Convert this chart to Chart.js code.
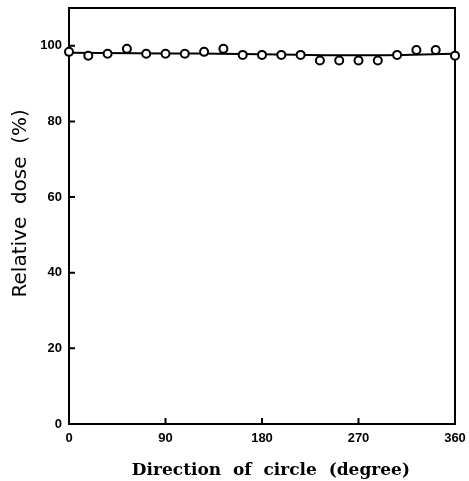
<!DOCTYPE html>
<html>
<head>
<meta charset="utf-8">
<script src="https://cdn.jsdelivr.net/npm/chart.js@4"></script>
<style>
  html, body { margin: 0; padding: 0; background: #fff; }
  #wrap { width: 469px; height: 481px; }
</style>
</head>
<body>
<div id="wrap"><canvas id="grafico"></canvas></div>
<script>
const angulos = [0, 18, 36, 54, 72, 90, 108, 126, 144, 162, 180, 198, 216, 234, 252, 270, 288, 306, 324, 342, 360]
const dosis = [98.4, 97.4, 97.9, 99.2, 97.9, 97.9, 97.9, 98.4, 99.2, 97.6, 97.6, 97.6, 97.6, 96.1, 96.1, 96.1, 96.1, 97.6, 98.9, 98.9, 97.4]
const ajusteAngulos = [0, 90, 180, 270, 360]
const ajusteDosis = [98.2, 98.0, 97.8, 97.5, 97.9]
const xTicks = [0, 90, 180, 270, 360]
const yTicks = [0, 20, 40, 60, 80, 100]

const puntos = angulos.map((a, i) => ({ x: a, y: dosis[i] }))
const ajuste = ajusteAngulos.map((a, i) => ({ x: a, y: ajusteDosis[i] }))

// marco y marcas hacia adentro
const marco = {
    id: 'marco',
    beforeDatasetsDraw(chart) {
        const { ctx, chartArea: a, scales } = chart
        ctx.save()
        ctx.strokeStyle = '#000'
        ctx.lineWidth = 2
        ctx.strokeRect(a.left, a.top, a.right - a.left, a.bottom - a.top)
        ctx.beginPath()
        xTicks.forEach(v => {
            const px = scales.x.getPixelForValue(v)
            ctx.moveTo(px, a.bottom)
            ctx.lineTo(px, a.bottom - 6)
        })
        yTicks.forEach(v => {
            const py = scales.y.getPixelForValue(v)
            ctx.moveTo(a.left, py)
            ctx.lineTo(a.left + 6, py)
        })
        ctx.stroke()
        ctx.restore()
    }
}

new Chart(document.getElementById('grafico'), {
    type: 'scatter',
    data: {
        datasets: [
            {
                label: 'ajuste',
                type: 'line',
                data: ajuste,
                borderColor: '#000',
                borderWidth: 2,
                pointRadius: 0,
                cubicInterpolationMode: 'monotone',
                fill: false,
                order: 2
            }, {
                label: 'dosis',
                data: puntos,
                pointRadius: 4,
                pointBorderWidth: 2,
                pointBackgroundColor: '#fff',
                pointBorderColor: '#000',
                clip: false,
                order: 1
            }
        ]
    },
    options: {
        responsive: true,
        maintainAspectRatio: false,
        animation: false,
        layout: { padding: { left: 0, right: 14, top: 8, bottom: 0 } },
        plugins: {
            legend: { display: false },
            tooltip: { enabled: false }
        },
        scales: {
            x: {
                type: 'linear',
                min: 0,
                max: 360,
                afterBuildTicks: s => { s.ticks = xTicks.map(v => ({ value: v })) },
                afterFit: s => { s.height = 57; s.paddingLeft = 0; s.paddingRight = 0 },
                grid: { display: false, drawTicks: false },
                border: { display: false },
                ticks: {
                    color: '#000',
                    padding: 7,
                    maxRotation: 0,
                    font: { family: 'Liberation Sans', size: 13, weight: 'bold' }
                },
                title: {
                    display: true,
                    text: '   Direction  of  circle  (degree)',
                    color: '#000',
                    padding: { top: 2, bottom: 0 },
                    font: { family: 'DejaVu Serif', size: 17, weight: 'bold' }
                }
            },
            y: {
                min: 0,
                max: 110,
                afterBuildTicks: s => { s.ticks = yTicks.map(v => ({ value: v })) },
                afterFit: s => { s.width = 69; s.paddingTop = 0; s.paddingBottom = 0 },
                grid: { display: false, drawTicks: false },
                border: { display: false },
                ticks: {
                    color: '#000',
                    padding: 7,
                    font: { family: 'Liberation Sans', size: 13, weight: 'bold' }
                },
                title: {
                    display: true,
                    text: '    Relative  dose  (%)',
                    color: '#000',
                    padding: { top: 9, bottom: 2 },
                    font: { family: 'DejaVu Sans', size: 20 }
                }
            }
        }
    },
    plugins: [marco]
});
</script>
</body>
</html>
